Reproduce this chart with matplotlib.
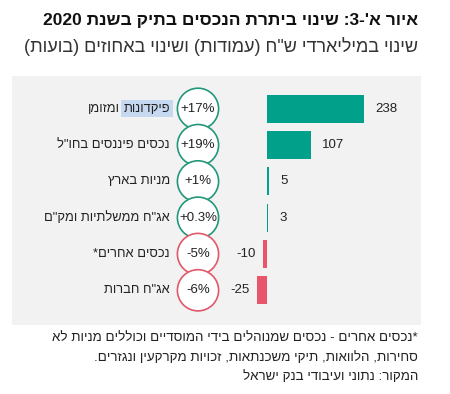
import re
import matplotlib
matplotlib.use("Agg")
import matplotlib.pyplot as plt
import matplotlib.transforms as mtransforms

plt.rcParams['font.family'] = ['Liberation Sans', 'DejaVu Sans']

# data
categories = ["פיקדונות ומזומן", 'נכסים פיננסים בחו"ל', "מניות בארץ",
              'אג"ח ממשלתיות ומק"ם', "נכסים אחרים*", 'אג"ח חברות']
values = [238, 107, 5, 3, -10, -25]
pct_labels = ["+17%", "+19%", "+1%", "+0.3%", "-5%", "-6%"]

title = "איור א'-3: שינוי ביתרת הנכסים בתיק בשנת 2020"
subtitle = 'שינוי במיליארדי ש"ח (עמודות) ושינוי באחוזים (בועות)'
notes = ["*נכסים אחרים - נכסים שמנוהלים בידי המוסדיים וכוללים מניות לא",
         "סחירות, הלוואות, תיקי משכנתאות, זכויות מקרקעין ונגזרים.",
         "המקור: נתוני ועיבודי בנק ישראל"]

GREEN = '#00a08a'
RED = '#e9566a'
GREEN_EDGE = '#23977a'
RED_EDGE = '#e0586a'


def rtl(s):
    # crude visual reordering for right-to-left text: keep digit runs intact
    tokens = re.findall(r'[0-9]+|[^0-9]', s)
    out = ''.join(reversed(tokens))
    return out.translate(str.maketrans('()', ')('))


fig = plt.figure(figsize=(4.5, 3.94), dpi=100)
fig.patch.set_facecolor('white')

W, H = 450, 394
left, right, top, bottom = 12, 421, 76, 325
ax = fig.add_axes([left / W, (H - bottom) / H, (right - left) / W, (bottom - top) / H])
ax.set_facecolor('#f2f2f2')
for s in ax.spines.values():
    s.set_visible(False)
ax.set_xticks([])
ax.set_yticks([])

scale = 97 / 238  # px per unit
zero_px = 267 - left
ax.set_xlim(-zero_px / scale, (right - left - zero_px) / scale)
row0, step = 108.8, 36.3
ax.set_ylim((bottom - row0) / step, -(row0 - top) / step)

ypos = list(range(len(values)))
colors = [GREEN if v >= 0 else RED for v in values]
edges = [GREEN_EDGE if v >= 0 else RED_EDGE for v in values]
ax.barh(ypos, values, height=0.77, color=colors)

for y, v in zip(ypos, values):
    if v >= 0:
        ax.annotate(str(v), (v, y), xytext=(11, 0), textcoords='offset pixels',
                    ha='left', va='center', fontsize=9.5, color='#222222')
    else:
        ax.annotate(str(v), (v, y), xytext=(-7, 0), textcoords='offset pixels',
                    ha='right', va='center', fontsize=9.5, color='#222222')

# bubbles with percent change
trans = mtransforms.blended_transform_factory(ax.transAxes, ax.transData)
circ_x = (198 - left) / (right - left)
ax.scatter([circ_x] * len(ypos), ypos, s=880, transform=trans, facecolor='white',
           edgecolor=edges, linewidth=1.2, zorder=3, clip_on=False)
for y, p in zip(ypos, pct_labels):
    ax.text(circ_x, y, p, transform=trans, ha='center', va='center',
            fontsize=9.5, color='#222222', zorder=4)

# category labels
lab_x = (170 - left) / (right - left)
for y, c in zip(ypos, categories):
    if y == 0:
        continue
    ax.text(lab_x, y, rtl(c), transform=trans, ha='right', va='center',
            fontsize=9.3, color='#222222')

# first label has a highlighted word
first_word, rest = categories[0].split(' ', 1)
t1 = ax.text(lab_x, 0, rtl(first_word), transform=trans, ha='right', va='center',
             fontsize=9.3, color='#222222',
             bbox=dict(boxstyle='square,pad=0.2', facecolor='#c6d9f0', edgecolor='none'))
fig.canvas.draw()
bb = t1.get_window_extent()
x0 = ax.transAxes.inverted().transform((bb.x0 - 3, bb.y0))[0]
ax.text(x0, 0, rtl(rest), transform=trans, ha='right', va='center',
        fontsize=9.3, color='#222222')

# titles and notes
fig.text(418 / W, 1 - 20 / H, rtl(title), ha='right', va='center',
         fontsize=12.5, fontweight='bold', color='#111111')
fig.text(418 / W, 1 - 46 / H, rtl(subtitle), ha='right', va='center',
         fontsize=13, color='#333333')
for i, n in enumerate(notes):
    fig.text(418 / W, 1 - (338 + 19.5 * i) / H, rtl(n), ha='right', va='center',
             fontsize=9.6, color='#222222')

fig.savefig('out.png', dpi=100, facecolor='white')
